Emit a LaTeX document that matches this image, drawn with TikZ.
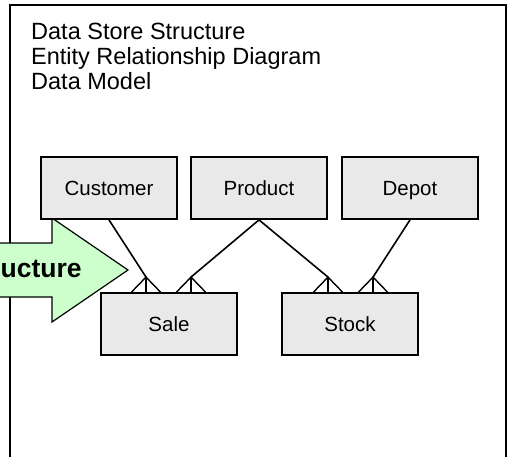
\documentclass[tikz,border=0pt]{standalone}
\usepackage{fontspec}
\setmainfont{Liberation Sans}
\usetikzlibrary{calc}
\definecolor{boxfill}{HTML}{E9E9E9}
\definecolor{arrowgreen}{HTML}{CCFFCC}
\begin{document}
\begin{tikzpicture}[x=1pt,y=-1pt,
  entity/.style={draw=black,line width=1.8pt,fill=boxfill,minimum width=136pt,minimum height=62pt,inner sep=0pt,text height=14.7pt,text depth=0pt,font=\fontsize{20.5}{24}\selectfont},
  titletext/.style={anchor=base west,inner sep=0pt,font=\fontsize{23.5}{25}\selectfont},
  rel/.style={draw=black,line width=1.6pt},
  foot/.style={draw=black,line width=1.4pt}]
\clip (0,0) rectangle (512,456);
\fill[white] (0,0) rectangle (512,456);
% outer frame
\draw[line width=2pt,black] (10,5) rectangle (506,480);
% title text
\node[titletext] (t1) at (31,39) {Data Store Structure};
\node[titletext] (t2) at (31,64) {Entity Relationship Diagram};
\node[titletext] (t3) at (31,89) {Data Model};
% arrow
\path[draw=black,line width=1.2pt,fill=arrowgreen]
  (-60,243) -- (52,243) -- (52,218) -- (128,270) -- (52,322) -- (52,297) -- (-60,297) -- cycle;
\node[anchor=base west,inner sep=0pt,font=\fontsize{26.5}{30}\selectfont\bfseries] (arrtxt) at (0.5,277.5) {ucture};
% entities
\node[entity] (cust) at (109,188) {Customer};
\node[entity] (prod) at (259,188) {Product};
\node[entity] (depot) at (410,188) {Depot};
\node[entity] (sale) at (169,324) {Sale};
\node[entity] (stock) at (350,324) {Stock};
% junction points of crow's feet
\coordinate (sj1) at ($(sale.north)+(-23,-15)$);
\coordinate (sj2) at ($(sale.north)+(22,-15)$);
\coordinate (kj1) at ($(stock.north)+(-22,-15)$);
\coordinate (kj2) at ($(stock.north)+(23,-15)$);
% relationships
\draw[rel] (cust.south) -- (sj1);
\draw[rel] (prod.south) -- (sj2);
\draw[rel] (prod.south) -- (kj1);
\draw[rel] (depot.south) -- (kj2);
% crow's feet
\foreach \j in {sj1,sj2,kj1,kj2}{
  \draw[foot] ($(\j)+(-14.5,15)$) -- (\j) -- ($(\j)+(14.5,15)$);
  \draw[foot] (\j) -- ($(\j)+(0,15)$);
}
\end{tikzpicture}
\end{document}
